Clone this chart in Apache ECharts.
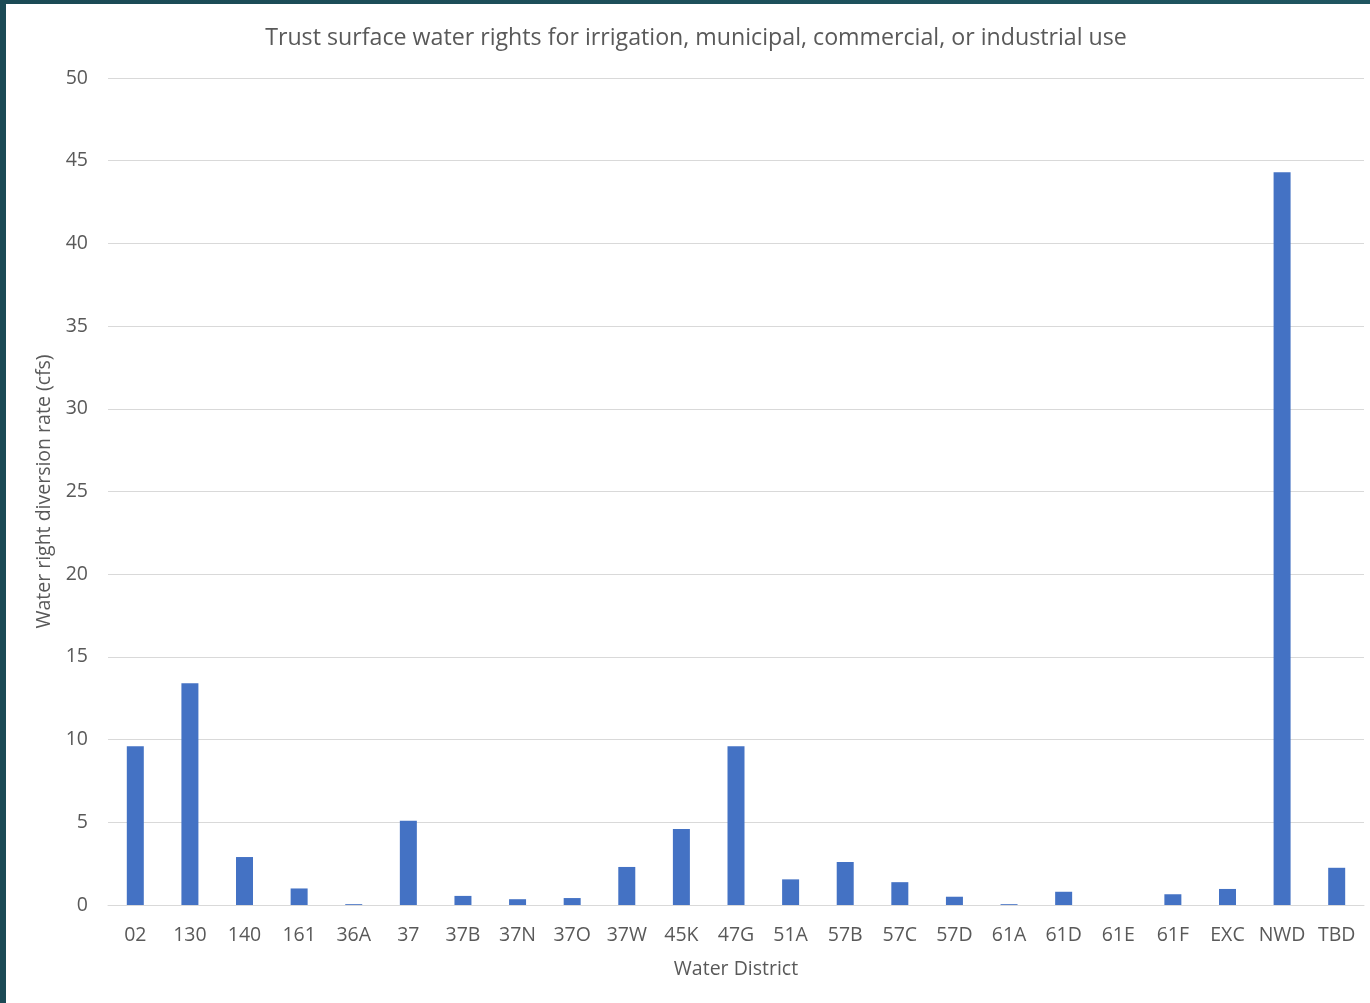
<!DOCTYPE html>
<html>
<head>
<meta charset="utf-8">
<script src="https://cdn.jsdelivr.net/npm/echarts@6/dist/echarts.min.js"></script>
<style>
  html, body { margin: 0; padding: 0; width: 1370px; height: 1003px; overflow: hidden; }
  body { background: linear-gradient(90deg, #1b4a55, #1f5560); position: relative; }
  #chart { position: absolute; left: 6px; top: 4px; width: 1364px; height: 999px; background: #ffffff; }
</style>
</head>
<body>
<div id="chart"></div>
<script>
// Water districts and their trust surface water right diversion rates (cfs)
const districts = ['02', '130', '140', '161', '36A', '37', '37B', '37N', '37O', '37W', '45K', '47G',
  '51A', '57B', '57C', '57D', '61A', '61D', '61E', '61F', 'EXC', 'NWD', 'TBD'];
const diversionRate = [9.6, 13.4, 2.9, 1.0, 0.05, 5.1, 0.55, 0.35, 0.42, 2.3, 4.6, 9.6,
  1.55, 2.6, 1.38, 0.5, 0.05, 0.8, 0, 0.65, 0.97, 44.3, 2.25];
const yTicks = { min: 0, max: 50, interval: 5 };

const textColor = '#595959';
const fontFamily = '"Open Sans", "Noto Sans", sans-serif';

const chart = echarts.init(document.getElementById('chart'));
chart.setOption({
  backgroundColor: '#ffffff',
  animation: false,
  title: {
    text: 'Trust surface water rights for irrigation, municipal, commercial, or industrial use',
    left: 685,
    textAlign: 'center',
    top: 18,
    textStyle: { color: textColor, fontSize: 23.2, fontWeight: 'normal', fontFamily: fontFamily }
  },
  grid: { left: 102, right: 6, top: 74, bottom: 98 },
  xAxis: {
    type: 'category',
    data: districts,
    name: 'Water District',
    nameLocation: 'middle',
    nameGap: 54,
    nameTextStyle: { color: textColor, fontSize: 19.5, fontFamily: fontFamily },
    axisLine: { lineStyle: { color: '#d9d9d9', width: 1 } },
    axisTick: { show: false },
    axisLabel: { color: textColor, fontSize: 19.5, margin: 20, interval: 0, fontFamily: fontFamily }
  },
  yAxis: {
    type: 'value',
    min: yTicks.min,
    max: yTicks.max,
    interval: yTicks.interval,
    name: 'Water right diversion rate (cfs)',
    nameLocation: 'middle',
    nameGap: 46,
    nameTextStyle: { color: textColor, fontSize: 19.5, fontFamily: fontFamily },
    axisLine: { show: false },
    axisTick: { show: false },
    axisLabel: { color: textColor, fontSize: 19.5, margin: 20, fontFamily: fontFamily },
    splitLine: { lineStyle: { color: '#d9d9d9', width: 1 } }
  },
  series: [{
    type: 'bar',
    data: diversionRate,
    barWidth: 17,
    itemStyle: { color: '#4472c4' }
  }]
});
</script>
</body>
</html>
